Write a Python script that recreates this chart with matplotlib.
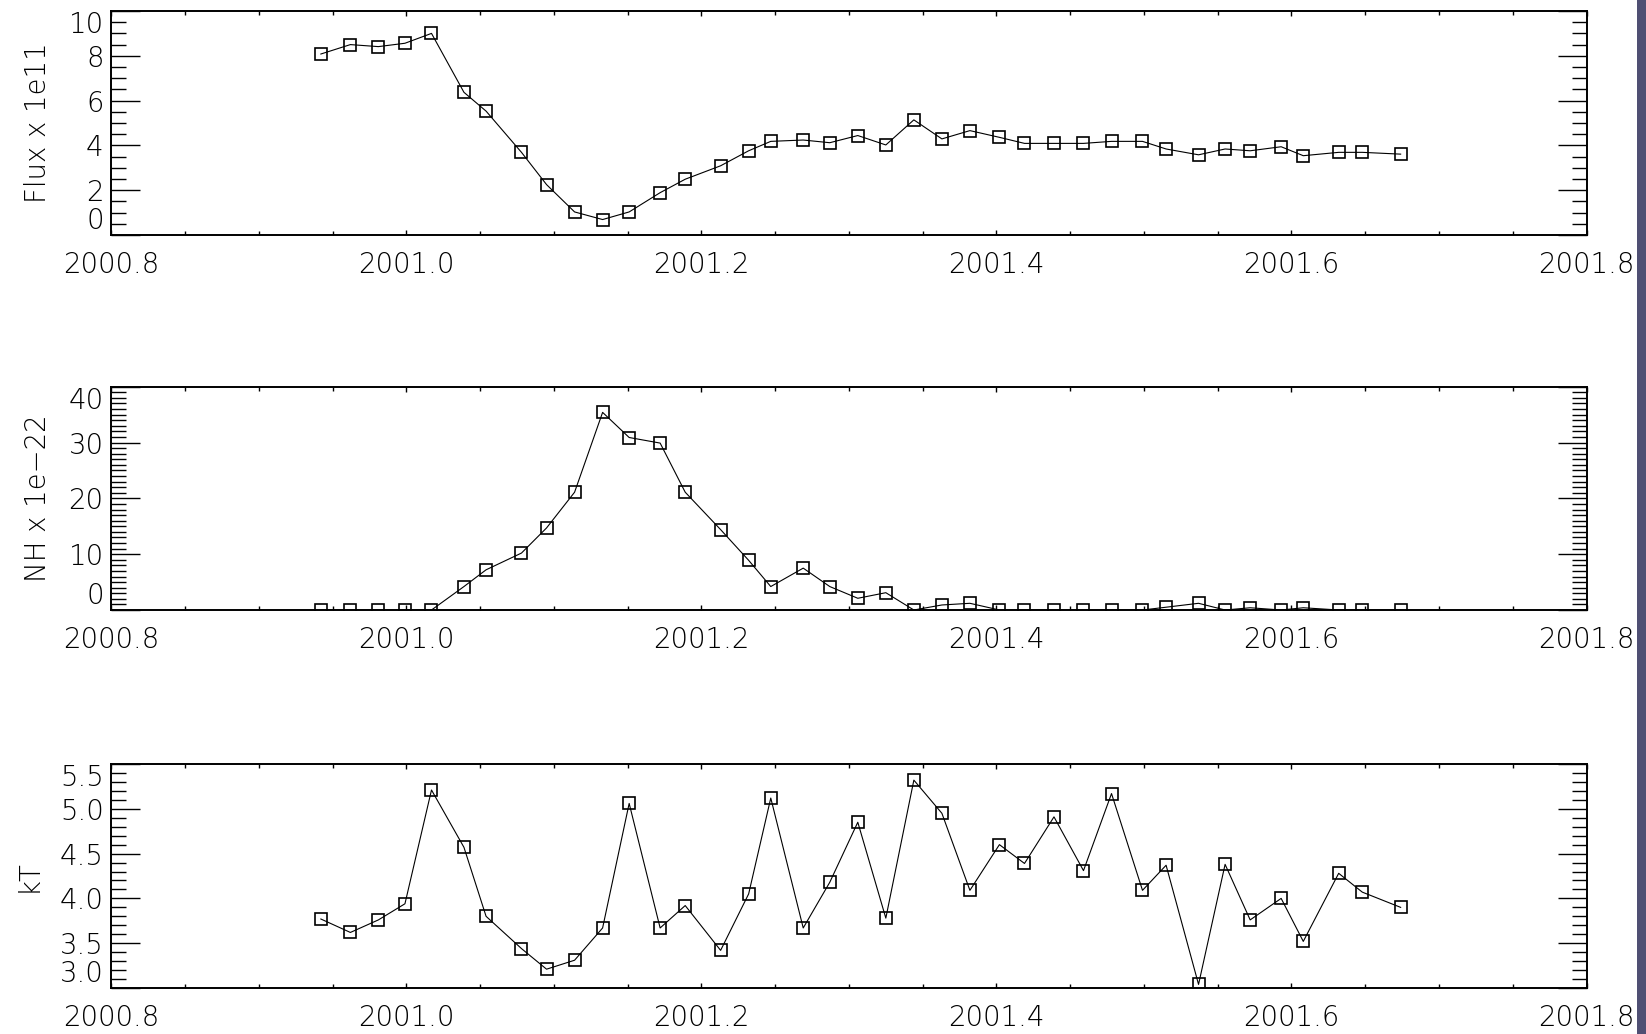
import matplotlib
matplotlib.use("Agg")
import matplotlib.pyplot as plt
from matplotlib.ticker import MultipleLocator, FormatStrFormatter
from matplotlib.patches import Rectangle

# observation times (decimal years)
year = [2000.942, 2000.962, 2000.981, 2000.999, 2001.017, 2001.039, 2001.054, 2001.078, 2001.095,
        2001.114, 2001.133, 2001.151, 2001.172, 2001.189, 2001.213, 2001.232, 2001.247, 2001.269,
        2001.287, 2001.306, 2001.325, 2001.344, 2001.363, 2001.382, 2001.402, 2001.419, 2001.439,
        2001.459, 2001.478, 2001.499, 2001.515, 2001.537, 2001.555, 2001.572, 2001.593, 2001.608,
        2001.632, 2001.648, 2001.674]

flux = [8.08, 8.50, 8.41, 8.56, 9.00, 6.37, 5.53, 3.69, 2.25, 1.03, 0.69, 1.03, 1.89, 2.49,
        3.09, 3.76, 4.18, 4.24, 4.12, 4.44, 4.02, 5.14, 4.29, 4.66, 4.36, 4.09, 4.09, 4.09,
        4.18, 4.18, 3.84, 3.58, 3.84, 3.76, 3.94, 3.54, 3.69, 3.69, 3.61]

nh = [0, 0, 0, 0, 0, 4.2, 7.2, 10.2, 14.7, 21.1, 35.4, 30.9, 29.9, 21.1, 14.4, 8.9, 4.2, 7.5,
      4.2, 2.1, 3.1, 0, 0.9, 1.2, 0, 0, 0, 0, 0, 0, 0.5, 1.2, 0, 0.4, 0, 0.4, 0, 0, 0]

kt = [3.77, 3.62, 3.76, 3.94, 5.21, 4.57, 3.80, 3.44, 3.21, 3.31, 3.67, 5.06, 3.67, 3.92,
      3.42, 4.05, 5.12, 3.67, 4.18, 4.85, 3.78, 5.32, 4.95, 4.09, 4.60, 4.39, 4.91, 4.31,
      5.17, 4.09, 4.37, 3.04, 4.38, 3.76, 4.00, 3.52, 4.28, 4.07, 3.90]

x_ticks = [2000.8, 2001.0, 2001.2, 2001.4, 2001.6, 2001.8]

plt.rcParams['font.family'] = ['DejaVu Sans']
plt.rcParams['font.weight'] = 'light'
plt.rcParams['axes.labelweight'] = 'light'
plt.rcParams['font.size'] = 19.8

W, H = 1646, 1034
fig = plt.figure(figsize=(W / 100, H / 100), dpi=100)
fig.patch.set_facecolor("white")

# dark strip on the right edge
fig.patches.append(Rectangle((1637 / W, 0), 1 - 1637 / W, 1, transform=fig.transFigure,
                             facecolor="#4f4f73", edgecolor="none", zorder=0))

left = 111.4 / W
width = 1475.1 / W
panels = [
    (flux, "Flux x 1e11", (0, 10), 2, 0.5, "%d", 11, 235),
    (nh, "NH x 1e\u221222", (0, 40), 10, 1, "%d", 386.7, 610),
    (kt, "kT", (3.0, 5.5), 0.5, 0.1, "%.1f", 764, 988),
]

for vals, label, ylim, major, minor, fmt, top_px, bot_px in panels:
    ax = fig.add_axes([left, 1 - bot_px / H, width, (bot_px - top_px) / H])
    ax.plot(year, vals, color="black", lw=0.8, marker="s", ms=8.5,
            mfc="none", mec="black", mew=1.2)
    ax.set_xlim(2000.8, 2001.8)
    ax.set_ylim(*ylim)
    ax.set_xticks(x_ticks)
    ax.xaxis.set_major_formatter(FormatStrFormatter("%.1f"))
    ax.xaxis.set_minor_locator(MultipleLocator(0.05))
    n = int(round((ylim[1] - ylim[0]) / major))
    ax.set_yticks([ylim[0] + i * major for i in range(n + 1)])
    ax.yaxis.set_major_formatter(FormatStrFormatter(fmt))
    ax.yaxis.set_minor_locator(MultipleLocator(minor))
    for s in ax.spines.values():
        s.set_linewidth(1.4)
    ax.tick_params(axis="both", which="both", direction="in", top=True, right=True,
                   width=1.0, color="black", labelcolor="black")
    ax.tick_params(axis="x", which="major", length=3.4, pad=11.5)
    ax.tick_params(axis="x", which="minor", length=2.6)
    ax.tick_params(axis="y", which="major", length=21.2, pad=5.6)
    ax.tick_params(axis="y", which="minor", length=10.6)
    yt = ax.yaxis.get_major_ticks()
    yt[0].label1.set_verticalalignment("bottom")
    yt[-1].label1.set_verticalalignment("top")
    ax.set_ylabel(label, labelpad=12, color="black")

fig.savefig("out.png", dpi=100, facecolor=fig.get_facecolor())
